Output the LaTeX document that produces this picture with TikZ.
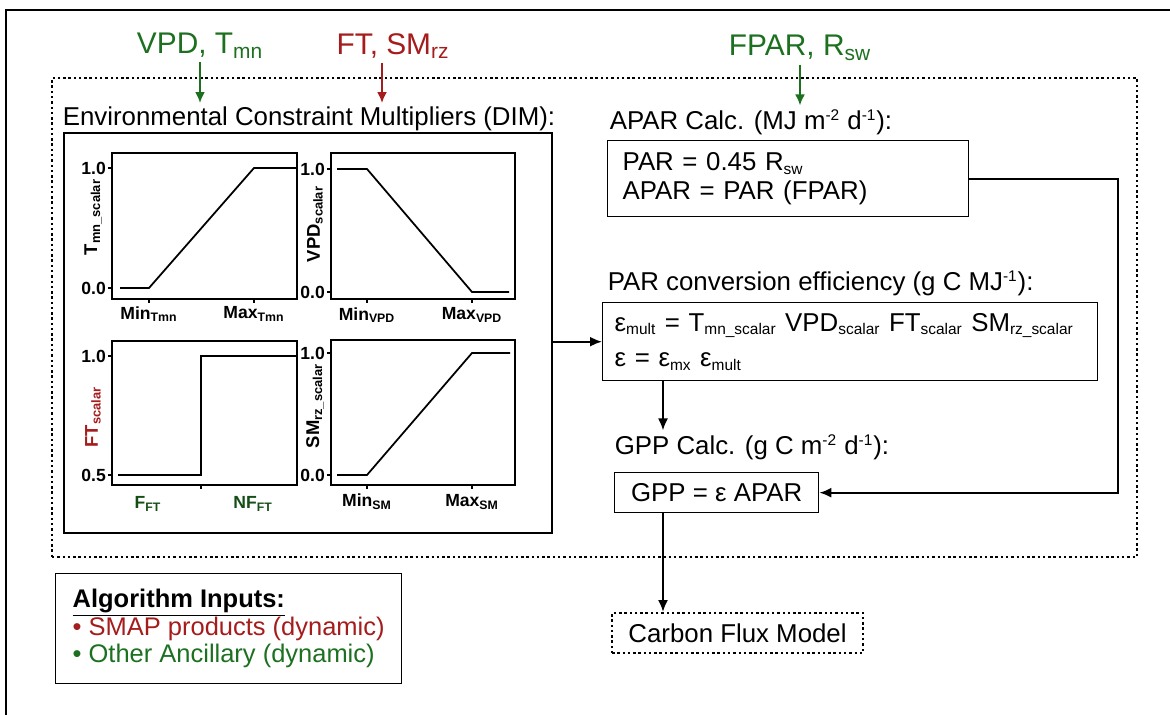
\documentclass[tikz,border=0pt]{standalone}
\usepackage{fontspec}
\setmainfont{Liberation Sans}
\usetikzlibrary{arrows.meta, positioning, fit}
\definecolor{ancgreen}{RGB}{28,112,32}
\definecolor{smapred}{RGB}{165,28,28}
\newcommand{\lo}[1]{\textsubscript{\fontsize{8.8}{9}\selectfont #1}}
\newcommand{\hi}[1]{\textsuperscript{\fontsize{8.8}{9}\selectfont #1}}

\begin{document}
\begin{tikzpicture}[x=0.02cm, y=-0.02cm,
  calcbox/.style = {draw, line width=0.8pt, align=left, anchor=north west, inner xsep=0.3cm, font=\fontsize{14.7}{16}\selectfont},
  headstyle/.style = {anchor=west, inner sep=2pt, font=\fontsize{14.7}{16}\selectfont},
  inputstyle/.style = {inner sep=2pt, font=\fontsize{17}{20}\selectfont},
  dotbox/.style = {draw, line width=1.4pt, dash pattern=on 1.4pt off 1.6pt},
  flowarrow/.style = {line width=1.1pt, -{Latex[length=2.4mm, width=2mm]}},
  inarrow/.style = {line width=1.2pt, -{Latex[length=2.2mm, width=2mm]}},
  plotline/.style = {line width=1pt},
  ticklabel/.style = {inner sep=1pt, font=\bfseries\fontsize{10}{12}\selectfont},
  axislabel/.style = {inner sep=1pt, rotate=90, font=\bfseries\fontsize{10.5}{12}\selectfont}]

  \useasboundingbox (0,0) rectangle (1170,715);
  % slide frame
  \draw[line width=0.8pt] (6,10) rectangle (1190,735);

  % model boundary
  \coordinate (modelNW) at (52,78);
  \coordinate (modelSE) at (1137,557);
  \node[dotbox, fit=(modelNW) (modelSE), inner sep=0pt] (model) {};

  % inputs
  \node[inputstyle, text=ancgreen] (vpdin) at (200,46) {VPD, T\textsubscript{mn}};
  \node[inputstyle, text=smapred] (ftin) at (393,46) {FT, SM\textsubscript{rz}};
  \node[inputstyle, text=ancgreen] (fparin) at (800,48) {FPAR, R\textsubscript{sw}};

  % DIM
  \node[headstyle] (dimhead) at (59,119) {Environmental Constraint Multipliers (DIM):};
  \coordinate (dimNW) at (64,133);
  \coordinate (dimSE) at (552,533);
  \node[draw, line width=0.9pt, fit=(dimNW) (dimSE), inner sep=0pt] (dim) {};

  % T_mn multiplier
  \draw[plotline] (112,153) rectangle (297,299);
  \draw[plotline] (108,168) -- (112,168) (108,288) -- (112,288) (149,299) -- (149,303) (254,299) -- (254,303);
  \draw[plotline] (120,288) -- (149,288) -- (254,168) -- (297,168);
  \node[ticklabel, anchor=east] (tmnhi) at (108,168) {1.0};
  \node[ticklabel, anchor=east] (tmnlo) at (108,288) {0.0};
  \node[ticklabel] (tmnmin) at (149,314) {Min\textsubscript{Tmn}};
  \node[ticklabel] (tmnmax) at (254,314) {Max\textsubscript{Tmn}};
  \node[axislabel] (tmnaxis) at (93,217) {T\textsubscript{mn\_scalar}};

  % VPD multiplier
  \draw[plotline] (331,153) rectangle (515,299);
  \draw[plotline] (327,169) -- (331,169) (327,292) -- (331,292) (367,299) -- (367,303) (472,299) -- (472,303);
  \draw[plotline] (337,169) -- (367,169) -- (472,292) -- (509,292);
  \node[ticklabel, anchor=east] (vpdhi) at (327,169) {1.0};
  \node[ticklabel, anchor=east] (vpdlo) at (327,292) {0.0};
  \node[ticklabel] (vpdmin) at (367,315) {Min\textsubscript{VPD}};
  \node[ticklabel] (vpdmax) at (472,315) {Max\textsubscript{VPD}};
  \node[axislabel] (vpdaxis) at (315,224) {VPD\textsubscript{scalar}};

  % FT multiplier
  \draw[plotline] (112,341) rectangle (297,485);
  \draw[plotline] (108,356) -- (112,356) (108,475) -- (112,475) (201,485) -- (201,489);
  \draw[plotline] (118,475) -- (201,475) -- (201,356) -- (297,356);
  \node[ticklabel, anchor=east] (fthi) at (108,356) {1.0};
  \node[ticklabel, anchor=east] (ftlo) at (108,475) {0.5};
  \node[ticklabel, text=ancgreen!70!black] (ftfrozen) at (148,504) {F\textsubscript{FT}};
  \node[ticklabel, text=ancgreen!70!black] (ftthawed) at (253,504) {NF\textsubscript{FT}};
  \node[axislabel, text=smapred] (ftaxis) at (93,417) {FT\textsubscript{scalar}};

  % SM multiplier
  \draw[plotline] (331,340) rectangle (515,485);
  \draw[plotline] (327,353) -- (331,353) (327,475) -- (331,475) (367,485) -- (367,489) (472,485) -- (472,489);
  \draw[plotline] (337,475) -- (367,475) -- (472,353) -- (510,353);
  \node[ticklabel, anchor=east] (smhi) at (327,353) {1.0};
  \node[ticklabel, anchor=east] (smlo) at (327,475) {0.0};
  \node[ticklabel] (smmin) at (367,502) {Min\textsubscript{SM}};
  \node[ticklabel] (smmax) at (472,502) {Max\textsubscript{SM}};
  \node[axislabel] (smaxis) at (315,406) {SM\textsubscript{rz\_scalar}};

  % APAR
  \node[headstyle] (aparhead) at (606,122) {APAR Calc. (MJ m\hi{-2} d\hi{-1}):};
  \node[calcbox, text width=6.62cm, minimum height=1.52cm] (aparbox) at (607,140) {PAR = 0.45 R\lo{sw}\\APAR = PAR (FPAR)};

  % PAR conversion efficiency
  \node[headstyle] (parhead) at (604,283) {PAR conversion efficiency (g C MJ\hi{-1}):};
  \node[calcbox, text width=9.42cm, inner xsep=0.24cm, minimum height=1.56cm] (parbox) at (602,302) {\mbox{ε\lo{mult} = T\lo{mn\_scalar} VPD\lo{scalar} FT\lo{scalar} SM\lo{rz\_scalar}}\\[4pt]ε = ε\lo{mx} ε\lo{mult}};

  % GPP
  \node[headstyle] (gpphead) at (611,447) {GPP Calc. (g C m\hi{-2} d\hi{-1}):};
  \node[calcbox, align=center, minimum width=4.08cm, minimum height=0.8cm] (gppbox) at (614,472) {GPP = ε APAR};

  % carbon flux model
  \node[dotbox, line width=1.2pt, anchor=north west, minimum width=5.02cm, minimum height=0.8cm, font=\fontsize{14.7}{16}\selectfont] (carbon) at (611,612) {Carbon Flux Model};

  % legend
  \node[draw, line width=0.8pt, anchor=north west, align=left, inner xsep=0.34cm, minimum height=2.2cm, font=\fontsize{14.5}{15.6}\selectfont] (legend) at (55,573)
    {\underline{\textbf{Algorithm Inputs:}}\\
     \textcolor{smapred}{• SMAP products (dynamic)}\\
     \textcolor{ancgreen}{• Other Ancillary (dynamic)}};

  % arrows
  \coordinate (flowx) at (663,0);
  \draw[inarrow, ancgreen] (vpdin) -- (vpdin |- dimhead.north);
  \draw[inarrow, smapred] ([xshift=-0.22cm]ftin.south) -- ([xshift=-0.22cm]ftin.south |- dimhead.north);
  \draw[inarrow, ancgreen] (fparin) -- (fparin |- aparhead.north);
  \draw[flowarrow] (dim.east |- parbox.west) -- (parbox.west);
  \draw[flowarrow] (aparbox.east) -- ++(149,0) |- (gppbox.east);
  \draw[flowarrow] (parbox.south -| flowx) -- (gpphead.north -| flowx);
  \draw[flowarrow] (gppbox.south -| flowx) -- (carbon.north -| flowx);

\end{tikzpicture}
\end{document}
